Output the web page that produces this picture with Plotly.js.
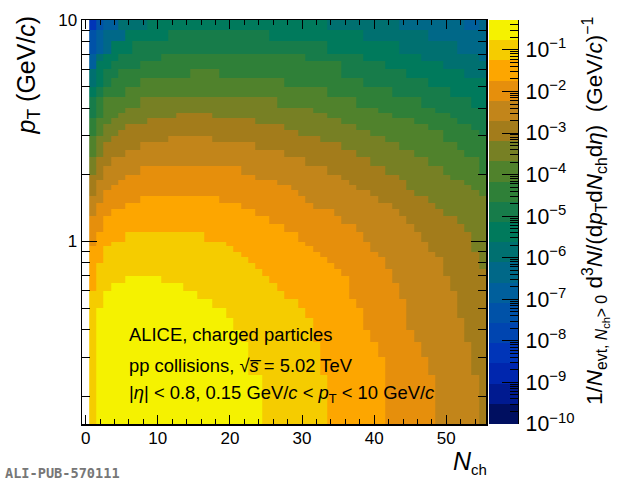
<!DOCTYPE html>
<html>
<head>
<meta charset="utf-8">
<script src="https://cdn.plot.ly/plotly-3.0.1.min.js"></script>
<style>body { margin: 0; background: #fff; }</style>
</head>
<body>
<div id="chart" style="width:620px;height:483px"></div>
<script>
// pT bin edges in GeV/c, Nch bins are 1..55
const pTEdges = [0.15, 0.2, 0.25, 0.3, 0.35, 0.4, 0.45, 0.5, 0.55, 0.6, 0.65, 0.7, 0.75, 0.8, 0.85, 0.9, 0.95,
    1, 1.1, 1.2, 1.3, 1.4, 1.5, 1.6, 1.7, 1.8, 1.9, 2, 2.2, 2.4, 2.6, 2.8, 3, 3.2, 3.4, 3.6, 3.8, 4,
    4.5, 5, 5.5, 6, 6.5, 7, 8, 9, 10];
const nchBins = Array.from({ length: 55 }, (_, i) => i + 1);

// colour bands of the z scale, top of the bar first
const bandColors = ["#f5f200", "#f5cc00", "#fda600", "#e68f0c", "#c2851a", "#a37c1b", "#778024", "#50822c", "#2f8038", "#177c4a",
    "#007a5c", "#007070", "#006888", "#005f9c", "#0052a8", "#0045b0", "#0035b8", "#0026ae", "#001a90", "#000f60"];
const logZMin = -10;
const logZMax = -0.28;

// band for each pT bin: runs of [band, last Nch], top row (9-10 GeV/c) first
const bandRuns = [
    [[16,1],[14,2],[13,4],[11,8],[10,33],[11,43],[12,52],[13,54],[12,55]],
    [[14,1],[13,2],[12,5],[10,11],[9,25],[10,38],[11,47],[12,55]],
    [[14,1],[13,2],[12,3],[10,6],[9,33],[10,43],[11,51],[12,55]],
    [[13,1],[11,2],[10,4],[9,10],[8,30],[9,38],[10,46],[11,54],[12,55]],
    [[13,1],[10,3],[9,7],[8,35],[9,41],[10,49],[11,55]],
    [[11,1],[10,2],[9,4],[8,14],[7,18],[8,35],[9,44],[10,52],[11,55]],
    [[11,1],[10,2],[9,3],[8,7],[7,27],[8,38],[9,47],[10,55]],
    [[10,1],[9,2],[8,5],[7,33],[8,42],[9,50],[10,55]],
    [[9,1],[8,2],[7,7],[6,26],[7,37],[8,46],[9,53],[10,55]],
    [[9,1],[8,2],[7,5],[6,31],[7,40],[8,48],[9,55]],
    [[9,1],[8,2],[7,4],[6,12],[5,17],[6,33],[7,42],[8,50],[9,55]],
    [[8,1],[7,3],[6,8],[5,23],[6,35],[7,45],[8,51],[9,55]],
    [[8,1],[7,2],[6,5],[5,27],[6,37],[7,47],[8,53],[9,55]],
    [[8,1],[7,2],[6,4],[5,29],[6,39],[7,49],[8,54],[9,55]],
    [[7,1],[6,3],[5,11],[4,17],[5,32],[6,41],[7,49],[8,55]],
    [[7,1],[6,2],[5,7],[4,23],[5,35],[6,43],[7,51],[8,55]],
    [[7,1],[6,2],[5,5],[4,27],[5,37],[6,45],[7,52],[8,55]],
    [[6,1],[5,3],[4,30],[5,39],[6,47],[7,54],[8,55]],
    [[6,1],[5,2],[4,7],[3,21],[4,33],[5,41],[6,49],[7,54],[8,55]],
    [[5,2],[4,5],[3,23],[4,35],[5,43],[6,50],[7,55]],
    [[5,1],[4,4],[3,26],[4,36],[5,44],[6,52],[7,55]],
    [[5,1],[4,3],[3,28],[4,37],[5,44],[6,53],[7,55]],
    [[5,1],[4,2],[3,29],[4,39],[5,45],[6,54],[7,55]],
    [[4,2],[3,7],[2,18],[3,30],[4,40],[5,47],[6,55]],
    [[4,1],[3,5],[2,21],[3,31],[4,42],[5,48],[6,55]],
    [[4,1],[3,3],[2,23],[3,34],[4,43],[5,49],[6,55]],
    [[3,2],[2,25],[3,35],[4,44],[5,51],[6,55]],
    [[3,2],[2,27],[3,37],[4,45],[5,52],[6,55]],
    [[3,1],[2,5],[1,16],[2,29],[3,38],[4,46],[5,53],[6,55]],
    [[3,1],[2,3],[1,19],[2,30],[3,39],[4,47],[5,53],[6,55]],
    [[2,2],[1,20],[2,31],[3,39],[4,47],[5,53],[6,55]],
    [[2,2],[1,21],[2,32],[3,40],[4,48],[5,54],[6,55]],
    [[2,2],[1,22],[2,33],[3,41],[4,49],[5,54],[6,55]],
    [[2,1],[1,23],[2,34],[3,41],[4,49],[5,54],[6,55]],
    [[2,1],[1,24],[2,35],[3,42],[4,49],[5,55]],
    [[2,1],[1,5],[0,10],[1,25],[2,36],[3,42],[4,50],[5,55]],
    [[2,1],[1,3],[0,13],[1,26],[2,36],[3,43],[4,50],[5,55]],
    [[1,2],[0,15],[1,27],[2,36],[3,43],[4,51],[5,55]],
    [[1,2],[0,17],[1,29],[2,37],[3,44],[4,51],[5,55]],
    [[1,1],[0,19],[1,30],[2,38],[3,44],[4,51],[5,55]],
    [[1,1],[0,20],[1,31],[2,38],[3,44],[4,52],[5,55]],
    [[1,1],[0,21],[1,31],[2,39],[3,45],[4,52],[5,55]],
    [[1,1],[0,22],[1,32],[2,40],[3,46],[4,53],[5,55]],
    [[1,1],[0,22],[1,32],[2,41],[3,47],[4,53],[5,55]],
    [[1,1],[0,24],[1,33],[2,41],[3,48],[4,54],[5,55]],
    [[1,1],[0,24],[1,33],[2,41],[3,48],[4,54],[5,55]]
];

const W = 620, H = 483;
const fx = px => px / W;
const fy = py => 1 - py / H;

let nBands = bandColors.length;
let bandStep = (logZMax - logZMin) / nBands;
let bandLog = b => logZMax - (b + 0.5) * bandStep;

// stepped colour scale, low values first
let colorscale = [];
bandColors.slice().reverse().forEach((c, i) => {
    colorscale.push([i / nBands, c]);
    colorscale.push([(i + 1) / nBands, c]);
});

// expand the runs into the z matrix, lowest pT row first
let zMatrix = bandRuns.slice().reverse().map(runs => nchBins.map(n => {
    let run = runs.find(r => n <= r[1]);
    return bandLog(run[0]);
}));

// the colour bar is its own small heatmap on a log axis so it can carry minor ticks
let barEdges = [];
for (let i = 0; i <= nBands; i++) barEdges.push(Math.pow(10, logZMin + i * bandStep));
let barZ = [];
for (let i = nBands - 1; i >= 0; i--) barZ.push([bandLog(i)]);

let mainTrace = {
    type: "heatmap", x: nchBins, y: pTEdges, z: zMatrix,
    colorscale: colorscale, zmin: logZMin, zmax: logZMax,
    showscale: false, hoverinfo: "skip", zsmooth: false
};
let barTrace = {
    type: "heatmap", x: [0, 1], y: barEdges, z: barZ, xaxis: "x2", yaxis: "y2",
    colorscale: colorscale, zmin: logZMin, zmax: logZMax,
    showscale: false, hoverinfo: "skip", zsmooth: false
};
// empty trace so the overlaid right-hand axis of the frame gets drawn (mirror drops the minor ticks)
let rightAxisTrace = { type: "scatter", x: [], y: [], xaxis: "x", yaxis: "y3", hoverinfo: "skip", showlegend: false };

const textFont = "Liberation Sans, Arial, sans-serif";
const axisColor = "#000";
const tickW = 1;
let note = (text, x, y, size, extra) => Object.assign({
    text: text, xref: "paper", yref: "paper", x: fx(x), y: fy(y),
    showarrow: false, xanchor: "left", yanchor: "middle",
    font: { family: textFont, size: size, color: "#000" }
}, extra || {});

let layout = {
    width: W, height: H,
    margin: { l: 0, r: 0, t: 0, b: 0 },
    paper_bgcolor: "#fff", plot_bgcolor: "#fff",
    font: { family: textFont, color: "#000" },
    showlegend: false,
    xaxis: {
        domain: [fx(82), fx(486)], range: [-0.5, 55.5], anchor: "y", layer: "above traces",
        tickmode: "linear", tick0: 0, dtick: 10, ticks: "inside", ticklen: 9, tickwidth: tickW, tickcolor: axisColor,
        minor: { dtick: 2, ticks: "inside", ticklen: 5, tickwidth: tickW, tickcolor: axisColor },
        showgrid: false, zeroline: false, showline: true, linecolor: axisColor, linewidth: 1.5, mirror: "ticks",
        ticklabelstandoff: -2, tickfont: { size: 17 }
    },
    yaxis: {
        domain: [fy(424), fy(20)], type: "log", range: [Math.log10(0.15), 1], anchor: "x", layer: "above traces",
        dtick: 1, ticks: "inside", ticklen: 15, tickwidth: tickW, tickcolor: axisColor,
        minor: { dtick: "D1", ticks: "inside", ticklen: 8, tickwidth: tickW, tickcolor: axisColor },
        showgrid: false, zeroline: false, showline: true, linecolor: axisColor, linewidth: 1.5,
        tickfont: { size: 17 }
    },
    yaxis3: {
        domain: [fy(424), fy(20)], type: "log", range: [Math.log10(0.15), 1], anchor: "x", overlaying: "y", side: "right", layer: "above traces",
        dtick: 1, ticks: "inside", ticklen: 15, tickwidth: tickW, tickcolor: axisColor,
        minor: { dtick: "D1", ticks: "inside", ticklen: 8, tickwidth: tickW, tickcolor: axisColor },
        showticklabels: false, showgrid: false, zeroline: false, showline: true, linecolor: axisColor, linewidth: 1.5
    },
    xaxis2: {
        domain: [fx(489), fx(518)], range: [0, 1], anchor: "y2",
        showticklabels: false, ticks: "", showgrid: false, zeroline: false
    },
    yaxis2: {
        domain: [fy(424), fy(20)], type: "log", range: [logZMin, logZMax], anchor: "x2", side: "right", layer: "above traces",
        dtick: 1, exponentformat: "power", ticks: "inside", ticklen: 16, tickwidth: tickW, tickcolor: axisColor,
        minor: { dtick: "D1", ticks: "inside", ticklen: 8, tickwidth: tickW, tickcolor: axisColor },
        showgrid: false, zeroline: false, showline: true, linecolor: axisColor, linewidth: 1.2,
        ticklabelstandoff: 3, tickfont: { size: 17 }
    },
    annotations: [
        note("ALICE, charged particles", 127, 334, 18.4),
        note("pp collisions, √<i>s\u0305</i> = 5.02 TeV", 127, 365, 18.4),
        note("|<i>η</i>| &lt; 0.8, 0.15 GeV/<i>c</i> &lt; <i>p</i><sub>T</sub> &lt; 10 GeV/<i>c</i>", 127, 394, 18.4),
        note("<i>p</i><sub>T</sub> (GeV/<i>c</i>)", 27, 14, 25, { textangle: -90, xanchor: "center", yanchor: "top" }),
        note("<i>N</i><sub><span style=\"font-size:15px\">ch</span></sub>", 451, 462, 25),
        note("1/<i>N</i><sub>evt, <i>N</i><sub>ch</sub>&gt; 0</sub> d<sup>3</sup><i>N</i>/(d<i>p</i><sub>T</sub>d<i>N</i><sub>ch</sub>d<i>η</i>)  (GeV/<i>c</i>)<sup>−1</sup>",
            596, 15, 22.5, { textangle: -90, xanchor: "center", yanchor: "top" }),
        note("ALI-PUB-570111", 3, 473, 13.6, { font: { family: "DejaVu Sans Mono, monospace", size: 13.6, color: "#777", weight: "bold" } })
    ]
};

Plotly.newPlot("chart", [mainTrace, barTrace, rightAxisTrace], layout, { staticPlot: true, displayModeBar: false });
</script>
</body>
</html>
